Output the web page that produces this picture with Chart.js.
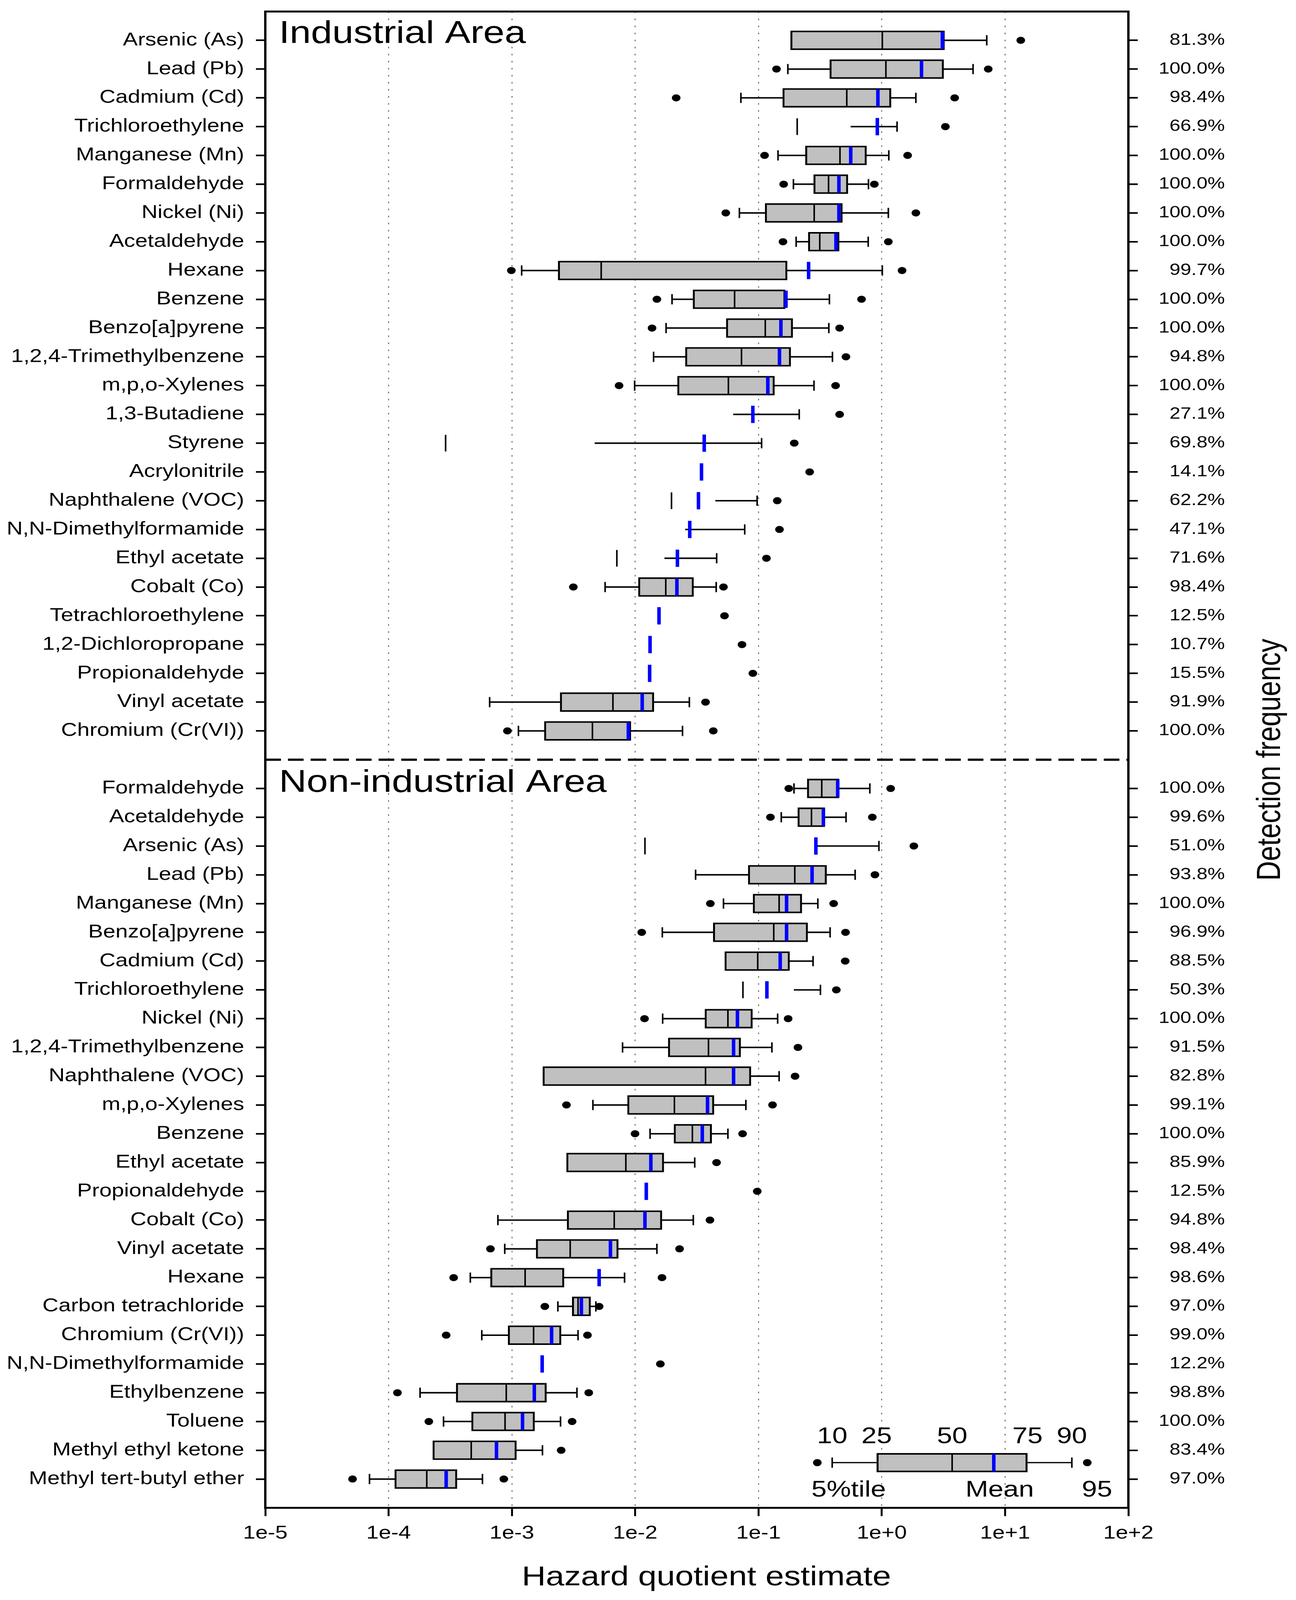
<!DOCTYPE html>
<html>
<head>
<meta charset="utf-8">
<title>Hazard quotient estimates</title>
<script src="https://cdn.jsdelivr.net/npm/chart.js@4.4.1/dist/chart.umd.min.js"></script>
<style>
  html, body { margin: 0; padding: 0; background: #fff; overflow: hidden; }
  #wrap { width: 3317px; height: 4999px; position: relative; transform-origin: 0 0; }
</style>
</head>
<body>
<div id="wrap"><canvas id="hqChart"></canvas></div>
<script>
// --- data (percentiles of the hazard quotient) ---
const industrialNames = ['Arsenic (As)', 'Lead (Pb)', 'Cadmium (Cd)', 'Trichloroethylene', 'Manganese (Mn)',
  'Formaldehyde', 'Nickel (Ni)', 'Acetaldehyde', 'Hexane', 'Benzene', 'Benzo[a]pyrene',
  '1,2,4-Trimethylbenzene', 'm,p,o-Xylenes', '1,3-Butadiene', 'Styrene', 'Acrylonitrile',
  'Naphthalene (VOC)', 'N,N-Dimethylformamide', 'Ethyl acetate', 'Cobalt (Co)',
  'Tetrachloroethylene', '1,2-Dichloropropane', 'Propionaldehyde', 'Vinyl acetate', 'Chromium (Cr(VI))'];
const industrialDetect = ['81.3%', '100.0%', '98.4%', '66.9%', '100.0%', '100.0%', '100.0%', '100.0%',
  '99.7%', '100.0%', '100.0%', '94.8%', '100.0%', '27.1%', '69.8%', '14.1%', '62.2%', '47.1%',
  '71.6%', '98.4%', '12.5%', '10.7%', '15.5%', '91.9%', '100.0%'];
const industrialP5 = [null, 0.14, 0.0215, null, 0.112, 0.16, 0.0543, 0.158, 9.9e-4, 0.015, 0.0137,
  null, 7.4e-3, null, null, null, null, null, null, 3.15e-3, null, null, null, null, 9.2e-4];
const industrialP10 = [null, 0.173, 0.072, null, 0.144, 0.192, 0.070, 0.202, 1.2e-3, 0.0199, 0.0178,
  0.0141, 9.9e-3, null, null, null, null, null, null, 5.7e-3, null, null, null, 6.6e-4, 1.13e-3];
const industrialP25 = [0.182, 0.378, 0.157, null, 0.240, 0.28, 0.113, 0.253, 2.37e-3, 0.0294, 0.0547,
  0.0255, 0.022, null, null, null, null, null, null, 0.0106, null, null, null, 2.46e-3, 1.83e-3];
const industrialP50 = [1.01, 1.08, 0.52, 0.206, 0.458, 0.37, 0.283, 0.314, 5.3e-3, 0.064, 0.1135,
  0.0728, 0.057, null, 2.9e-4, null, 0.0197, null, 7.1e-3, 0.0177, null, null, null, 6.6e-3, 4.5e-3];
const industrialP75 = [3.23, 3.18, 1.19, 0.56, 0.753, 0.532, 0.48, 0.452, 0.171, 0.165, 0.19,
  0.183, 0.135, 0.0625, 4.7e-3, null, 0.0448, 0.0255, 0.0173, 0.0298, null, null, null, 0.0142, 9.25e-3];
const industrialP90 = [7.1, 5.5, 1.89, 1.33, 1.14, 0.78, 1.13, 0.776, 1.01, 0.376, 0.372,
  0.398, 0.282, 0.214, 0.106, null, 0.0975, 0.0773, 0.0458, 0.0454, null, null, null, 0.0275, 0.0242];
const industrialP95 = [13.4, 7.3, 3.9, 3.28, 1.62, 0.87, 1.89, 1.13, 1.46, 0.685, 0.455,
  0.512, 0.422, 0.455, 0.195, 0.26, 0.142, 0.148, 0.116, 0.052, 0.053, 0.0735, 0.090, 0.0372, 0.043];
const industrialMean = [3.1, 2.1, 0.93, 0.92, 0.56, 0.449, 0.449, 0.425, 0.255, 0.167, 0.152,
  0.148, 0.119, 0.090, 0.0363, 0.0345, 0.0326, 0.0277, 0.0220, 0.0218, 0.0156, 0.0132, 0.0131, 0.0114, 8.8e-3];

const nonIndustrialNames = ['Formaldehyde', 'Acetaldehyde', 'Arsenic (As)', 'Lead (Pb)', 'Manganese (Mn)',
  'Benzo[a]pyrene', 'Cadmium (Cd)', 'Trichloroethylene', 'Nickel (Ni)', '1,2,4-Trimethylbenzene',
  'Naphthalene (VOC)', 'm,p,o-Xylenes', 'Benzene', 'Ethyl acetate', 'Propionaldehyde', 'Cobalt (Co)',
  'Vinyl acetate', 'Hexane', 'Carbon tetrachloride', 'Chromium (Cr(VI))', 'N,N-Dimethylformamide',
  'Ethylbenzene', 'Toluene', 'Methyl ethyl ketone', 'Methyl tert-butyl ether'];
const nonIndustrialDetect = ['100.0%', '99.6%', '51.0%', '93.8%', '100.0%', '96.9%', '88.5%', '50.3%',
  '100.0%', '91.5%', '82.8%', '99.1%', '100.0%', '85.9%', '12.5%', '94.8%', '98.4%', '98.6%',
  '97.0%', '99.0%', '12.2%', '98.8%', '100.0%', '83.4%', '97.0%'];
const nonIndustrialP5 = [0.176, 0.125, null, null, 0.0407, 0.0113, null, null, 0.0119, null, null,
  2.77e-3, 9.97e-3, null, null, null, 6.7e-4, 3.37e-4, 1.85e-3, 2.93e-4, null, 1.18e-4, 2.12e-4, null, 5.1e-5];
const nonIndustrialP10 = [0.194, 0.153, null, 0.0309, 0.052, 0.0166, null, null, 0.0167, 7.9e-3, null,
  4.54e-3, 0.0132, null, null, 7.7e-4, 8.75e-4, 4.6e-4, 2.36e-3, 5.7e-4, null, 1.8e-4, 2.79e-4, null, 7.0e-5];
const nonIndustrialP25 = [0.248, 0.208, null, 0.0824, 0.0902, 0.0429, 0.0532, null, 0.0367, 0.0185, 1.78e-3,
  8.65e-3, 0.0206, 2.77e-3, null, 2.8e-3, 1.57e-3, 6.7e-4, 3.08e-3, 9.3e-4, null, 3.53e-4, 4.7e-4, 2.28e-4, 1.12e-4];
const nonIndustrialP50 = [0.326, 0.269, 0.012, 0.197, 0.147, 0.133, 0.0986, 0.0748, 0.0565, 0.0393, 0.0372,
  0.0208, 0.0291, 8.4e-3, null, 6.76e-3, 2.97e-3, 1.28e-3, 3.44e-3, 1.5e-3, null, 9.0e-4, 8.8e-4, 4.68e-4, 2.04e-4];
const nonIndustrialP75 = [0.452, 0.346, 0.295, 0.357, 0.225, 0.251, 0.179, 0.194, 0.0895, 0.0718, 0.087,
  0.0436, 0.0418, 0.0171, null, 0.0165, 7.3e-3, 2.65e-3, 4.35e-3, 2.51e-3, null, 1.91e-3, 1.53e-3, 1.09e-3, 3.59e-4];
const nonIndustrialP90 = [0.80, 0.513, 0.948, 0.608, 0.303, 0.381, 0.277, 0.318, 0.143, 0.1285, 0.147,
  0.079, 0.0565, 0.0304, null, 0.0296, 0.015, 8.2e-3, 4.8e-3, 3.44e-3, null, 3.37e-3, 2.48e-3, 1.77e-3, 5.77e-4];
const nonIndustrialP95 = [1.18, 0.838, 1.82, 0.88, 0.407, 0.508, 0.505, 0.428, 0.174, 0.209, 0.198,
  0.13, 0.0743, 0.0457, 0.0977, 0.0404, 0.0229, 0.0165, 5.1e-3, 4.1e-3, 0.016, 4.2e-3, 3.08e-3, 2.51e-3, 8.6e-4];
const nonIndustrialMean = [0.439, 0.336, 0.292, 0.272, 0.169, 0.169, 0.150, 0.117, 0.0675, 0.0628, 0.0628,
  0.0386, 0.035, 0.0134, 0.0123, 0.012, 6.3e-3, 5.1e-3, 3.66e-3, 2.1e-3, 1.76e-3, 1.52e-3, 1.22e-3, 7.5e-4, 2.93e-4];

const xTickValues = [1e-5, 1e-4, 1e-3, 1e-2, 1e-1, 1e0, 1e1, 1e2];
const xTickLabels = ['1e-5', '1e-4', '1e-3', '1e-2', '1e-1', '1e+0', '1e+1', '1e+2'];

// key box: 5th, 10th, 25th, 50th, mean, 75th, 90th, 95th
const keyValues = [0.30, 0.396, 0.908, 3.72, 8.1, 15.2, 34.8, 46.4];
const keyTopLabels = ['10', '25', '50', '75', '90'];
const keyBottomLabels = ['5%tile', 'Mean', '95'];

// one blank row above, between and below the two groups
const toSlots = (a, b, blank) => [blank].concat(a, [blank], b, [blank]);
const slotLabels = toSlots(industrialNames, nonIndustrialNames, '');
const detectLabels = toSlots(industrialDetect, nonIndustrialDetect, '');
const p5 = toSlots(industrialP5, nonIndustrialP5, null);
const p10 = toSlots(industrialP10, nonIndustrialP10, null);
const p25 = toSlots(industrialP25, nonIndustrialP25, null);
const p50 = toSlots(industrialP50, nonIndustrialP50, null);
const p75 = toSlots(industrialP75, nonIndustrialP75, null);
const p90 = toSlots(industrialP90, nonIndustrialP90, null);
const p95 = toSlots(industrialP95, nonIndustrialP95, null);
const means = toSlots(industrialMean, nonIndustrialMean, null);

const boxData = p25.map((v, i) => (v != null && p75[i] != null ? [v, p75[i]] : null));
const lowWhisker = p10.map((v, i) => (v != null && p25[i] != null ? [v, p25[i]] : null));
const highWhisker = p90.map((v, i) => (v != null && p75[i] != null ? [p75[i], v] : null));

// the window may be shorter than the figure: squeeze the page to fit it
const wrap = document.getElementById('wrap');
const fitY = Math.min(1, window.innerHeight / 4999);
if (fitY < 1) wrap.style.transform = 'scale(1,' + fitY + ')';

const FONT = "'Liberation Sans', Arial, sans-serif";
Chart.defaults.font.family = FONT;
Chart.defaults.color = '#000';

const BOX_H = 60;
const GAP_SLOT = industrialNames.length + 1;
const KEY_SLOT = slotLabels.length - 2.57;

function whisker(data) {
  return { type: 'bar', data, backgroundColor: '#000', borderWidth: 0, barThickness: 4,
    grouped: false, order: 6, xAxisID: 'x', yAxisID: 'y' };
}
function marks(data, style, radius, width, color, order) {
  return { type: 'scatter', data, pointStyle: style, pointRadius: radius, pointRotation: 90,
    pointBorderWidth: width, pointBorderColor: color, pointBackgroundColor: color,
    order, xAxisID: 'x', yAxisID: 'y' };
}
// fixed axis sizes so the plot box sits where it does in the figure
function fixWidth(w) {
  return s => { s.width = w; s.paddingTop = 0; s.paddingBottom = 0; };
}

const extras = {
  id: 'extras',
  afterDraw(chart) {
    const { ctx, chartArea: a, scales: { x, y } } = chart;
    ctx.save();

    // separator between the two areas
    ctx.setLineDash([40, 18]);
    ctx.lineWidth = 7;
    ctx.strokeStyle = '#000';
    ctx.beginPath();
    ctx.moveTo(a.left, y.getPixelForValue(GAP_SLOT));
    ctx.lineTo(a.right, y.getPixelForValue(GAP_SLOT));
    ctx.stroke();
    ctx.setLineDash([]);

    // panel titles
    ctx.fillStyle = '#000';
    ctx.font = '98px ' + FONT;
    ctx.textAlign = 'left';
    ctx.textBaseline = 'alphabetic';
    ctx.fillText('Industrial Area', a.left + 35, y.getPixelForValue(0) + 98);
    ctx.fillText('Non-industrial Area', a.left + 35, y.getPixelForValue(GAP_SLOT) + 100);

    // axis titles
    ctx.font = '85px ' + FONT;
    ctx.textAlign = 'center';
    ctx.textBaseline = 'middle';
    ctx.fillText('Hazard quotient estimate', 1808, 4930);
    ctx.save();
    ctx.translate(3253, (a.top + a.bottom) / 2);
    ctx.rotate(-Math.PI / 2);
    ctx.fillText('Detection frequency', 0, 0);
    ctx.restore();

    // key box
    const ky = y.getPixelForValue(KEY_SLOT);
    const kx = keyValues.map(v => x.getPixelForValue(v));
    ctx.lineWidth = 4;
    ctx.beginPath();
    ctx.moveTo(kx[1], ky); ctx.lineTo(kx[2], ky);
    ctx.moveTo(kx[5], ky); ctx.lineTo(kx[6], ky);
    ctx.moveTo(kx[1], ky - 16); ctx.lineTo(kx[1], ky + 16);
    ctx.moveTo(kx[6], ky - 16); ctx.lineTo(kx[6], ky + 16);
    ctx.stroke();
    ctx.fillStyle = '#c0c0c0';
    ctx.fillRect(kx[2], ky - BOX_H / 2, kx[5] - kx[2], BOX_H);
    ctx.lineWidth = 5;
    ctx.strokeRect(kx[2] + 2.5, ky - BOX_H / 2 + 2.5, kx[5] - kx[2] - 5, BOX_H - 5);
    ctx.lineWidth = 4;
    ctx.beginPath();
    ctx.moveTo(kx[3], ky - 26); ctx.lineTo(kx[3], ky + 26);
    ctx.stroke();
    ctx.strokeStyle = '#0000ff';
    ctx.lineWidth = 9;
    ctx.beginPath();
    ctx.moveTo(kx[4], ky - 27); ctx.lineTo(kx[4], ky + 27);
    ctx.stroke();
    ctx.fillStyle = '#000';
    [kx[0], kx[7]].forEach(px => {
      ctx.beginPath();
      ctx.arc(px, ky, 11, 0, Math.PI * 2);
      ctx.fill();
    });
    ctx.font = '70px ' + FONT;
    ctx.textAlign = 'center';
    ctx.textBaseline = 'alphabetic';
    [1, 2, 3, 5, 6].forEach((k, i) => ctx.fillText(keyTopLabels[i], kx[k], ky - 61));
    ctx.textAlign = 'left';
    ctx.fillText(keyBottomLabels[0], kx[0] - 15, ky + 106);
    ctx.textAlign = 'center';
    ctx.fillText(keyBottomLabels[1], kx[4] + 15, ky + 106);
    ctx.fillText(keyBottomLabels[2], kx[7] + 25, ky + 106);

    // frame
    ctx.strokeStyle = '#000';
    ctx.lineWidth = 6;
    ctx.strokeRect(a.left, a.top, a.right - a.left, a.bottom - a.top);
    ctx.restore();
  }
};

new Chart(document.getElementById('hqChart'), {
  type: 'bar',
  data: {
    labels: slotLabels,
    datasets: [
      whisker(lowWhisker),
      whisker(highWhisker),
      marks(p10, 'line', 16, 4, '#000', 5),
      marks(p90, 'line', 16, 4, '#000', 5),
      { type: 'bar', data: boxData, backgroundColor: '#c0c0c0', borderColor: '#000', borderWidth: 5,
        borderSkipped: false, barThickness: BOX_H, grouped: false, order: 4, xAxisID: 'x', yAxisID: 'y' },
      marks(p50, 'line', 26, 4, '#000', 3),
      marks(means, 'line', 27, 9, '#0000ff', 2),
      marks(p5, 'circle', 11, 0, '#000', 1),
      marks(p95, 'circle', 11, 0, '#000', 1)
    ]
  },
  options: {
    indexAxis: 'y',
    responsive: true,
    maintainAspectRatio: false,
    devicePixelRatio: 1,
    animation: false,
    events: [],
    layout: { padding: { top: 22, left: 0, right: 182, bottom: 0 } },
    plugins: { legend: { display: false }, tooltip: { enabled: false } },
    scales: {
      x: {
        type: 'logarithmic',
        position: 'bottom',
        min: 1e-5,
        max: 1e2,
        afterBuildTicks: s => { s.ticks = xTickValues.map(v => ({ value: v })); },
        afterFit: s => { s.height = 288; },
        ticks: { callback: (v, i) => xTickLabels[i], font: { size: 57 }, color: '#000',
          padding: 20, maxRotation: 0, autoSkip: false },
        grid: { color: '#808080', lineWidth: 3, tickLength: 26, tickWidth: 5, tickColor: '#000' },
        border: { display: false, dash: [5, 17] }
      },
      y: {
        type: 'category',
        position: 'left',
        offset: false,
        afterFit: fixWidth(679),
        ticks: { autoSkip: false, callback: (v, i) => slotLabels[i] || null,
          font: { size: 57 }, color: '#000', padding: 30 },
        grid: { offset: false, drawOnChartArea: false, tickLength: 24, tickWidth: 5, tickColor: '#000' },
        border: { display: false }
      },
      y2: {
        type: 'category',
        axis: 'y',
        position: 'right',
        labels: detectLabels,
        offset: false,
        afterFit: fixWidth(247),
        ticks: { autoSkip: false, crossAlign: 'far', callback: (v, i) => detectLabels[i] || null,
          font: { size: 50 }, color: '#000', padding: 52 },
        grid: { offset: false, drawOnChartArea: false, tickLength: 24, tickWidth: 5, tickColor: '#000' },
        border: { display: false }
      }
    }
  },
  plugins: [extras]
});
</script>
</body>
</html>
